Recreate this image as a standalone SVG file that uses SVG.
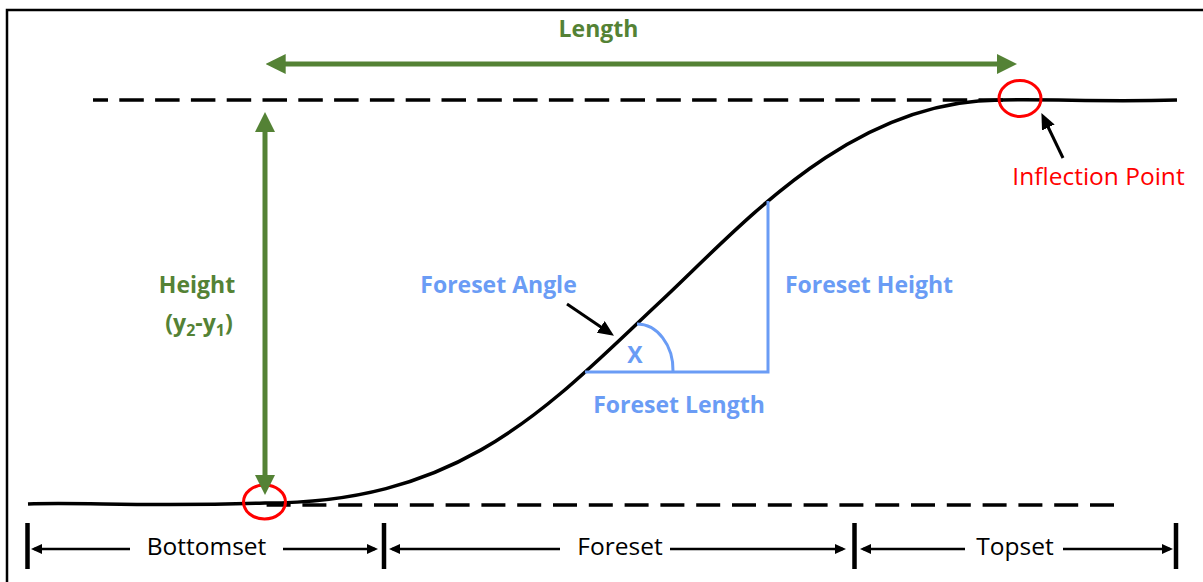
<svg xmlns="http://www.w3.org/2000/svg" width="1203" height="582" viewBox="0 0 1203 582">
  <style>
    .lbl { font-family: "Open Sans", "Liberation Sans", sans-serif; }
    .green { fill: #548235; font-weight: bold; font-size: 23px; }
    .blue { fill: #6A9CF5; font-weight: bold; font-size: 23px; }
    .reg { fill: #000; font-size: 24.5px; }
    .red { fill: #FF0000; font-size: 24.5px; }
    .dash { fill: none; stroke: #000; stroke-width: 3.6; }
    .garrow { fill: none; stroke: #548235; stroke-width: 5; }
    .barrow { fill: none; stroke: #000; stroke-width: 2.7; }
    .ptr { fill: none; stroke: #000; stroke-width: 3; }
    .tick { stroke: #000; stroke-width: 4.5; }
    .ring { fill: none; stroke: #FF0000; stroke-width: 3; }
    .tri { fill: none; stroke: #6A9CF5; stroke-width: 3; }
  </style>
  <defs>
    <marker id="gh" markerUnits="userSpaceOnUse" viewBox="0 0 20 20" refX="14" refY="10" markerWidth="20" markerHeight="20" orient="auto-start-reverse">
      <path d="M0,0 L20,10 L0,20 z" fill="#548235"/>
    </marker>
    <marker id="bh" markerUnits="userSpaceOnUse" viewBox="0 0 11 10" refX="8" refY="5" markerWidth="11" markerHeight="10" orient="auto">
      <path d="M0,0 L11,5 L0,10 z" fill="#000"/>
    </marker>
    <marker id="ph" markerUnits="userSpaceOnUse" viewBox="0 0 16 14" refX="10" refY="7" markerWidth="16" markerHeight="14" orient="auto">
      <path d="M0,0 L16,7 L0,14 z" fill="#000"/>
    </marker>
  </defs>

  <rect x="7" y="10" width="1210" height="590" fill="#fff" stroke="#000" stroke-width="2.5"/>

  <g id="reference-lines">
    <line class="dash" x1="93" y1="100" x2="1010" y2="100" stroke-dasharray="24.5 11.3" stroke-dashoffset="9.5"/>
    <line class="dash" x1="266.6" y1="505" x2="1115" y2="505" stroke-dasharray="24 11.8"/>
  </g>

  <g id="profile-curve">
    <path d="M28,504 C80,502 150,507 265,503 C465,503 551,403.7 661,301 C741,226.3 850,100 1000,100 C1060,99 1100,102 1177,100" fill="none" stroke="#000" stroke-width="3.5"/>
  </g>

  <g id="foreset-triangle">
    <path class="tri" d="M585,372 L768,372 L768,201"/>
    <path class="tri" d="M637,324 A36 46 0 0 1 673,371"/>
  </g>

  <g id="inflection-markers">
    <ellipse class="ring" cx="264.5" cy="502" rx="21" ry="17"/>
    <ellipse class="ring" cx="1020" cy="98.5" rx="21" ry="18"/>
  </g>

  <g id="connectors">
    <line class="garrow" x1="271.7" y1="64" x2="1011" y2="64" marker-start="url(#gh)" marker-end="url(#gh)"/>
    <line class="garrow" x1="265" y1="118" x2="265" y2="489" marker-start="url(#gh)" marker-end="url(#gh)"/>
    <line class="ptr" x1="1063" y1="158" x2="1044" y2="118.5" marker-end="url(#ph)"/>
    <line class="ptr" x1="567" y1="304" x2="609" y2="332.5" marker-end="url(#ph)"/>
    <line class="barrow" x1="130" y1="549" x2="34" y2="549" marker-end="url(#bh)"/>
    <line class="barrow" x1="283" y1="549" x2="375" y2="549" marker-end="url(#bh)"/>
    <line class="barrow" x1="560" y1="549" x2="392" y2="549" marker-end="url(#bh)"/>
    <line class="barrow" x1="670" y1="549" x2="843" y2="549" marker-end="url(#bh)"/>
    <line class="barrow" x1="965" y1="549" x2="863" y2="549" marker-end="url(#bh)"/>
    <line class="barrow" x1="1063" y1="549" x2="1170" y2="549" marker-end="url(#bh)"/>
  </g>

  <g id="section-ticks">
    <line class="tick" x1="27.5" y1="523" x2="27.5" y2="569"/>
    <line class="tick" x1="384" y1="523" x2="384" y2="569"/>
    <line class="tick" x1="854.5" y1="523" x2="854.5" y2="569"/>
    <line class="tick" x1="1176" y1="523" x2="1176" y2="569"/>
  </g>

  <g id="label-length"><text class="lbl green" x="598.5" y="37" text-anchor="middle">Length</text></g>
  <g id="label-height">
    <text class="lbl green" x="197" y="293" text-anchor="middle">Height</text>
    <text class="lbl green" x="199" y="331" text-anchor="middle">(y<tspan font-size="16" dy="5">2</tspan><tspan dy="-5">-y</tspan><tspan font-size="16" dy="5">1</tspan><tspan dy="-5">)</tspan></text>
  </g>
  <g id="label-inflection"><text class="lbl red" x="1098.5" y="185" text-anchor="middle">Inflection Point</text></g>
  <g id="label-foreset-angle"><text class="lbl blue" x="498.5" y="293" text-anchor="middle">Foreset Angle</text></g>
  <g id="label-foreset-height"><text class="lbl blue" x="869" y="293" text-anchor="middle">Foreset Height</text></g>
  <g id="label-foreset-length"><text class="lbl blue" x="679" y="413" text-anchor="middle">Foreset Length</text></g>
  <g id="label-x"><text class="lbl blue" x="635" y="363" text-anchor="middle" font-size="24">X</text></g>
  <g id="label-bottomset"><text class="lbl reg" x="206.5" y="555" text-anchor="middle">Bottomset</text></g>
  <g id="label-foreset"><text class="lbl reg" x="620" y="555" text-anchor="middle">Foreset</text></g>
  <g id="label-topset"><text class="lbl reg" x="1015" y="555" text-anchor="middle">Topset</text></g>
</svg>
